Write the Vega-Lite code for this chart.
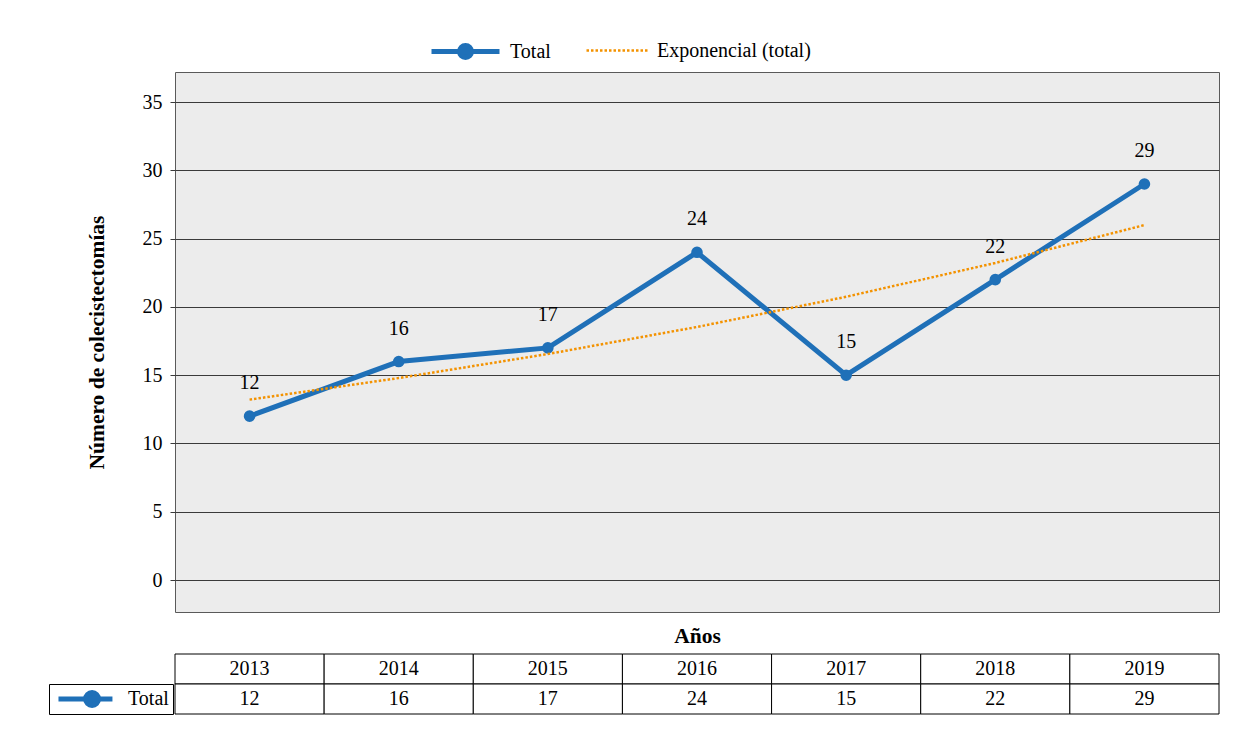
{
  "$schema": "https://vega.github.io/schema/vega-lite/v6.json",
  "background": "white",
  "padding": {"left": 48, "top": 14, "right": 5, "bottom": 5},
  "config": {"font": "Liberation Serif"},
  "data": {"values": [
    {"year": "2013", "total": 12, "trend": 13.21},
    {"year": "2014", "total": 16, "trend": 14.79},
    {"year": "2015", "total": 17, "trend": 16.55},
    {"year": "2016", "total": 24, "trend": 18.53},
    {"year": "2017", "total": 15, "trend": 20.74},
    {"year": "2018", "total": 22, "trend": 23.22},
    {"year": "2019", "total": 29, "trend": 25.99}
  ]},
  "spacing": 6,
  "resolve": {"scale": {"color": "independent", "stroke": "independent", "x": "independent", "y": "independent"}, "legend": {"color": "independent", "stroke": "independent"}},
  "vconcat": [
    {
      "width": 1044,
      "height": 540,
      "view": {"fill": "#ececec", "stroke": "#5a5a5a", "strokeWidth": 1},
      "encoding": {
        "x": {"field": "year", "type": "nominal", "scale": {"type": "point", "padding": 0.5},
          "axis": {"title": "Años", "labels": false, "ticks": false, "domain": false, "grid": false, "titleFont": "Liberation Serif", "titleFontSize": 21.5, "titleFontWeight": "bold", "titleColor": "black", "titlePadding": 13}}
      },
      "layer": [
        {
          "mark": {"type": "line", "strokeWidth": 5},
          "encoding": {
            "y": {"field": "total", "type": "quantitative", "scale": {"domain": [-2.34, 37.2], "nice": false, "zero": false},
              "axis": {"values": [0, 5, 10, 15, 20, 25, 30, 35], "title": "Número de colecistectomías", "titleFont": "Liberation Serif", "titleFontSize": 21.5, "titleFontWeight": "bold", "titleColor": "black", "titlePadding": 34, "labelFont": "Liberation Serif", "labelFontSize": 20, "labelColor": "black", "labelPadding": 8, "tickSize": 5, "tickColor": "#3a3a3a", "domain": false, "grid": true, "gridColor": "#3a3a3a", "gridOpacity": 1, "gridWidth": 1}},
            "color": {"datum": "Total", "type": "nominal",
              "scale": {"domain": ["Total"], "range": ["#1f70b8"]},
              "legend": {"title": null, "orient": "none", "legendX": 254, "legendY": -57, "symbolType": "M-1,0H1M0.176,0A0.176,0.176 0 1,1 -0.176,0A0.176,0.176 0 1,1 0.176,0Z", "symbolSize": 4624, "symbolFillColor": "#1f70b8", "symbolStrokeColor": "#1f70b8", "symbolStrokeWidth": 5, "labelFont": "Liberation Serif", "labelFontSize": 20, "labelColor": "black", "labelOffset": 8, "padding": 0}}
          }
        },
        {
          "mark": {"type": "point", "filled": true, "size": 135, "opacity": 1},
          "encoding": {
            "y": {"field": "total", "type": "quantitative"},
            "color": {"datum": "Total", "type": "nominal"}
          }
        },
        {
          "mark": {"type": "line", "strokeWidth": 2.5, "strokeDash": [2.5, 2], "strokeCap": "butt"},
          "encoding": {
            "y": {"field": "trend", "type": "quantitative"},
            "stroke": {"datum": "Exponencial (total)", "type": "nominal",
              "scale": {"domain": ["Exponencial (total)"], "range": ["#f39200"]},
              "legend": {"title": null, "orient": "none", "legendX": 410, "legendY": -54, "symbolType": "stroke", "symbolSize": 3844, "symbolStrokeColor": "#f39200", "symbolStrokeWidth": 2.5, "symbolDash": [2.5, 2], "labelFont": "Liberation Serif", "labelFontSize": 20, "labelColor": "black", "labelOffset": 7, "padding": 0}}
          }
        },
        {
          "mark": {"type": "text", "dy": -33, "fontSize": 20, "font": "Liberation Serif", "color": "black"},
          "encoding": {
            "y": {"field": "total", "type": "quantitative"},
            "text": {"field": "total", "type": "quantitative"}
          }
        }
      ]
    },
    {
      "width": 1044,
      "height": 60,
      "view": {"stroke": null},
      "transform": [{"fold": ["year", "total"], "as": ["key", "value"]}],
      "encoding": {
        "x": {"field": "year", "type": "nominal", "axis": null, "scale": {"paddingInner": 0, "paddingOuter": 0}},
        "y": {"field": "key", "type": "nominal", "sort": ["year", "total"], "axis": null, "scale": {"paddingInner": 0, "paddingOuter": 0}}
      },
      "layer": [
        {
          "mark": {"type": "rect", "fill": "white", "stroke": "black", "strokeWidth": 1}
        },
        {
          "mark": {"type": "text", "fontSize": 20, "font": "Liberation Serif", "color": "black"},
          "encoding": {"text": {"field": "value", "type": "nominal"}}
        },
        {
          "mark": {"type": "point", "filled": true, "opacity": 0},
          "encoding": {
            "color": {"datum": "Total", "type": "nominal", "scale": {"domain": ["Total"], "range": ["#1f70b8"]},
              "legend": {"title": null, "orient": "none", "legendX": -126, "legendY": 30, "symbolType": "M-0.65,0H5.7M4.065,0A0.765,0.765 0 1,1 2.535,0A0.765,0.765 0 1,1 4.065,0Z", "symbolSize": 289, "symbolFillColor": "#1f70b8", "symbolStrokeColor": "#1f70b8", "symbolStrokeWidth": 5, "symbolOpacity": 1, "clipHeight": 22, "labelOffset": 53, "labelFont": "Liberation Serif", "labelFontSize": 20, "labelColor": "black", "padding": 4, "strokeColor": "black"}}
          }
        }
      ]
    }
  ]
}
